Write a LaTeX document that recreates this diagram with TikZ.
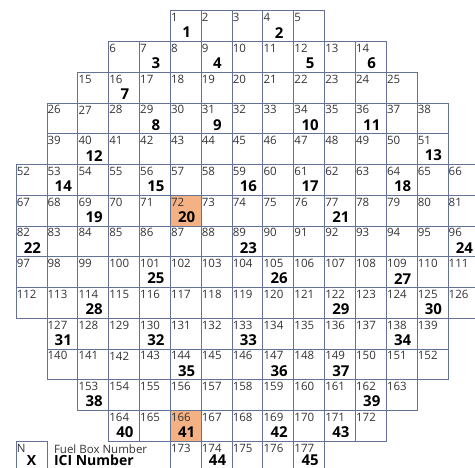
\documentclass[tikz,border=0pt]{standalone}
\usepackage{fontspec}
\setmainfont{Open Sans}
\definecolor{gridc}{RGB}{100,114,150}
\definecolor{hl}{RGB}{244,177,131}
\tikzset{
 cell/.style={draw=gridc, line width=0.65pt, minimum width=30.85pt, minimum height=30.75pt, inner sep=0pt, outer sep=0pt, anchor=north west},
 hlcell/.style={cell, fill=hl},
 small/.style={font=\fontsize{11.5}{13}\selectfont, text=black!80, inner sep=0pt, anchor=west},
 big/.style={font=\fontsize{15}{17}\selectfont\bfseries, inner sep=0pt},
 legtext/.style={font=\fontsize{11.5}{13}\selectfont, text=black!80, inner sep=0pt, anchor=west},
 legbold/.style={font=\fontsize{14}{16}\selectfont\bfseries, inner sep=0pt, anchor=west},
}
\begin{document}
\begin{tikzpicture}[x=1pt,y=-1pt]
\useasboundingbox (0,0) rectangle (475,468);
\clip (0,0) rectangle (475,468);
\foreach \r/\c/\n/\k in {0/5/1/5, 1/3/6/9, 2/2/15/11, 3/1/26/13, 4/1/39/13, 5/0/52/15, 6/0/67/15, 7/0/82/15, 8/0/97/15, 9/0/112/15, 10/1/127/13, 11/1/140/13, 12/2/153/11, 13/3/164/9, 14/5/173/5}{
  \foreach \i in {1,...,\k}{
    \pgfmathtruncatemacro\num{\n+\i-1}
    \pgfmathsetmacro\xx{16+30.85*(\c+\i-1)}
    \pgfmathsetmacro\yy{10.6+30.75*\r}
    \def\st{cell}
    \ifnum\num=72 \def\st{hlcell}\fi
    \ifnum\num=166 \def\st{hlcell}\fi
    \node[\st] (c\num) at (\xx,\yy) {};
    \node[small] at ([xshift=0.6pt,yshift=-7pt]c\num.north west) {\num};
  }
}
\foreach \cn/\ici/\dy in {1/1/22,4/2/22,7/3/22,9/4/22,12/5/22,14/6/22,16/7/22,29/8/22,31/9/22,34/10/22,36/11/22,40/12/22,51/13/22,53/14/22,56/15/22,59/16/22,61/17/22,64/18/22,69/19/22,72/20/22,77/21/22,82/22/22,89/23/22,96/24/22,101/25/22,105/26/22,109/27/22,114/28/22,122/29/22,125/30/22,127/31/22,130/32/22,133/33/22,138/34/22,144/35/22,147/36/22,149/37/22,153/38/22,162/39/22,164/40/22,166/41/22,169/42/22,171/43/22,174/44/19,177/45/19}{
  \node[big] at ([xshift=1pt,yshift=-\dy pt]c\cn.north) {\ici};
}
\node[cell] (leg) at (16,441.5) {};
\node[small] at ([xshift=0.6pt,yshift=-7pt]leg.north west) {N};
\node[big, font=\fontsize{14}{16}\selectfont\bfseries] at ([yshift=-19pt]leg.north) {X};
\node[legtext] (fbn) at ([xshift=7pt,yshift=-7.5pt]leg.north east) {Fuel Box Number};
\node[legbold] (ici) at ([xshift=7pt,yshift=-19pt]leg.north east) {ICI Number};
\end{tikzpicture}
\end{document}
